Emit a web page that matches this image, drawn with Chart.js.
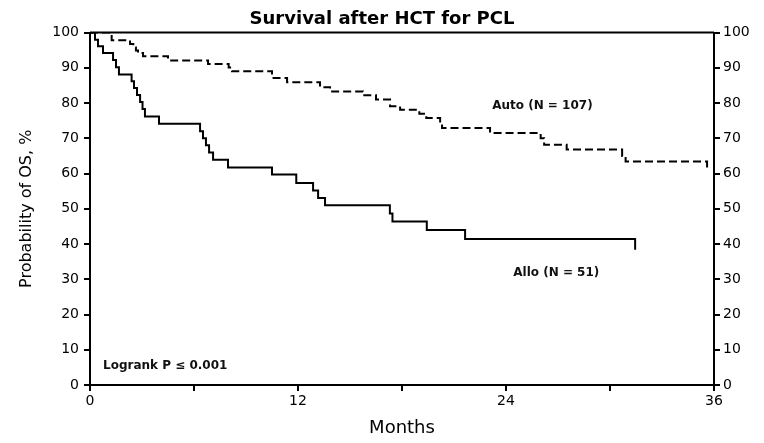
<!DOCTYPE html>
<html>
<head>
<meta charset="utf-8">
<script src="https://cdn.jsdelivr.net/npm/chart.js@4.4.1/dist/chart.umd.min.js"></script>
<style>
  body { margin: 0; background: #fff; }
  #wrap { width: 764px; height: 443px; position: relative; }
</style>
</head>
<body>
<div id="wrap"><canvas id="km"></canvas></div>
<script>
// Kaplan-Meier steps (months, % surviving)
const alloMonths = [0, 0.29, 0.46, 0.75, 1.33, 1.5, 1.67, 2.4, 2.54, 2.71, 2.89, 3.03, 3.17, 3.98,
  6.35, 6.52, 6.69, 6.87, 7.1, 7.96, 10.5, 11.9, 12.87, 13.16, 13.56, 17.3, 17.45, 19.43, 21.64, 31.45, 31.45];
const alloSurv = [100, 98, 96.1, 94.2, 92.2, 90.2, 88.1, 86.2, 84.3, 82.3, 80.3, 78.3, 76.2, 74.1,
  72, 70, 68, 66, 63.9, 61.7, 59.7, 57.3, 55.2, 53.1, 51, 48.7, 46.4, 44, 41.4, 41.4, 38.4];

const autoMonths = [0, 1.25, 2.31, 2.5, 2.65, 2.77, 3.06, 4.5, 6.81, 8.0, 8.19, 10.5, 11.37, 13.27, 13.85,
  15.75, 16.5, 17.31, 17.89, 19.0, 19.4, 20.2, 20.31, 23.08, 26.0, 26.2, 27.5, 30.7, 30.9, 35.6, 35.6];
const autoSurv = [100, 97.8, 96.8, 95.8, 94.9, 94.2, 93.3, 92.1, 91.1, 90.1, 89.0, 87.1, 85.9, 84.5, 83.3,
  82.2, 81.0, 79.1, 78.1, 77.0, 75.8, 74.2, 72.9, 71.5, 70.0, 68.2, 66.8, 65.0, 63.4, 63.4, 61.6];

const monthTicks = [0, 12, 24, 36];
const pctTicks = [0, 10, 20, 30, 40, 50, 60, 70, 80, 90, 100];

// text notes placed in data units
const notes = [
  { text: 'Auto (N = 107)', x: 26.1, y: 79.3, align: 'center' },
  { text: 'Allo (N = 51)', x: 26.9, y: 31.8, align: 'center' },
  { text: 'Logrank P \u2264 0.001', x: 0.75, y: 5.4, align: 'left' }
];

const toPoints = (xs, ys) => xs.map((x, i) => ({ x: x, y: ys[i] }));

const FONT = 'DejaVu Sans';

const boxLines = {
  id: 'boxLines',
  afterDraw(chart) {
    const { ctx, chartArea, scales } = chart;
    ctx.save();
    // top frame line
    ctx.strokeStyle = '#000';
    ctx.lineWidth = 2;
    ctx.beginPath();
    ctx.moveTo(chartArea.left, chartArea.top);
    ctx.lineTo(chartArea.right, chartArea.top);
    ctx.stroke();
    // notes
    ctx.fillStyle = '#111';
    ctx.font = 'bold 12px ' + FONT;
    ctx.textBaseline = 'middle';
    notes.forEach(n => {
      ctx.textAlign = n.align;
      ctx.fillText(n.text, scales.x.getPixelForValue(n.x), scales.y.getPixelForValue(n.y));
    });
    ctx.restore();
  }
};

const axisGrid = { drawOnChartArea: false, drawTicks: true, tickLength: 6, color: '#000', lineWidth: 2 };
const axisBorder = { display: true, color: '#000', width: 2 };
const tickFont = { family: FONT, size: 14 };

const pctAxis = (pos, width, pad) => ({
  type: 'linear',
  position: pos,
  min: 0,
  max: 100,
  grid: axisGrid,
  border: axisBorder,
  afterBuildTicks: s => { s.ticks = pctTicks.map(v => ({ value: v })); },
  ticks: { color: '#000', font: tickFont, padding: pad },
  afterFit: s => { s.width = width; }
});

new Chart(document.getElementById('km'), {
  type: 'line',
  data: {
    datasets: [
      {
        label: 'Auto (N = 107)',
        data: toPoints(autoMonths, autoSurv),
        borderColor: '#000',
        borderWidth: 2,
        borderDash: [8, 4],
        stepped: true,
        pointRadius: 0,
        fill: false
      },
      {
        label: 'Allo (N = 51)',
        data: toPoints(alloMonths, alloSurv),
        borderColor: '#000',
        borderWidth: 2,
        stepped: true,
        pointRadius: 0,
        fill: false
      }
    ]
  },
  options: {
    responsive: true,
    maintainAspectRatio: false,
    animation: false,
    layout: { padding: 0 },
    plugins: {
      legend: { display: false },
      tooltip: { enabled: false },
      title: {
        display: true,
        text: 'Survival after HCT for PCL',
        color: '#000',
        font: { family: FONT, size: 18, weight: 'bold' },
        padding: { top: 9, bottom: 2 }
      }
    },
    scales: {
      x: {
        type: 'linear',
        min: 0,
        max: 36,
        grid: axisGrid,
        border: axisBorder,
        ticks: {
          stepSize: 6,
          color: '#000',
          font: tickFont,
          padding: 2,
          maxRotation: 0,
          callback: v => monthTicks.includes(v) ? v : ''
        },
        title: {
          display: true,
          text: 'Months',
          color: '#000',
          font: { family: FONT, size: 18 },
          padding: { top: 0, bottom: 4 }
        },
        afterFit: s => { s.height = 58; }
      },
      y: Object.assign(pctAxis('left', 90, 5), {
        title: {
          display: true,
          text: 'Probability of OS, %',
          color: '#000',
          font: { family: FONT, size: 16 },
          padding: { top: 17, bottom: 0 }
        }
      }),
      y2: pctAxis('right', 50, 3)
    }
  },
  plugins: [boxLines]
});
</script>
</body>
</html>
